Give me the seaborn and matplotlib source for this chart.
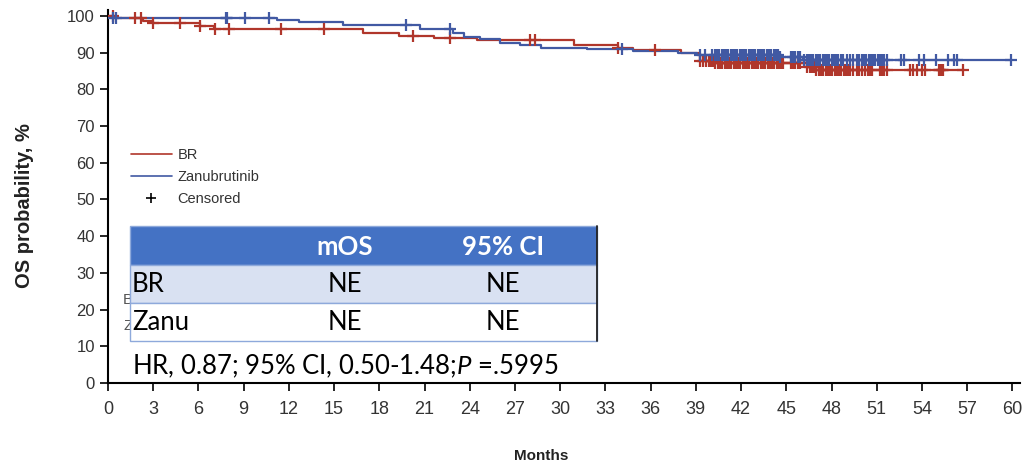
import numpy as np
import pandas as pd
import matplotlib
matplotlib.use("Agg")
import matplotlib.pyplot as plt
from matplotlib.patches import Rectangle
from matplotlib.lines import Line2D
import seaborn as sns

# ---------------- data ----------------
br_time = [0, 0.5, 2.3, 3.0, 6.1, 7.0, 16.9, 19.3, 21.6, 24.5, 30.9, 33.8, 34.8,
           38.0, 39.3, 40.2, 46.4, 47.0, 56.7]
br_surv = [100, 99.3, 98.6, 98.0, 97.3, 96.3, 95.2, 94.6, 94.0, 93.3, 92.2, 91.2, 90.7,
           89.9, 87.7, 87.1, 86.2, 85.3, 85.3]

zanu_time = [0, 0.3, 11.2, 12.7, 15.6, 20.7, 22.9, 23.6, 24.7, 26.0, 27.3, 28.7, 31.8,
             34.8, 37.8, 39.1, 44.6, 46.1, 59.9]
zanu_surv = [100, 99.5, 98.9, 98.2, 97.4, 96.3, 95.2, 94.3, 93.6, 92.6, 92.1, 91.3, 90.9,
             90.5, 89.9, 89.4, 88.7, 88.0, 88.0]

br_censored = [0.3, 1.8, 2.2, 3.0, 4.8, 6.1, 7.1, 8.0, 11.5, 14.3, 20.2, 22.7, 28.0, 28.3,
               33.8, 36.3, 39.3, 39.5, 39.7, 39.9, 40.0, 40.15, 40.3, 40.45, 40.6, 40.75,
               40.9, 41.05, 41.2, 41.35, 41.5, 41.65, 41.8, 41.95, 42.1, 42.25, 42.4, 42.55,
               42.7, 42.85, 43.0, 43.15, 43.3, 43.45, 43.6, 43.75, 43.9, 44.05, 44.2, 44.35,
               44.5, 44.65, 44.8, 45.3, 45.45, 45.6, 45.75, 45.9,
               46.4, 46.55, 46.7, 46.85, 47.0, 47.15, 47.3, 47.45, 47.6, 47.75, 47.9, 48.05,
               48.2, 48.35, 48.5, 48.65, 48.8, 48.95, 49.1, 49.25, 49.4, 49.7, 49.85, 50.0,
               50.25, 50.4, 50.55, 50.7, 51.2, 51.35, 51.5, 51.65,
               53.2, 53.4, 53.7, 54.0, 54.2, 55.1, 55.2, 55.3, 55.4, 56.7]
zanu_censored = [0.3, 0.5, 7.8, 7.9, 9.1, 10.7, 19.8, 22.7, 34.1, 39.3, 39.6,
                 40.1, 40.25, 40.4, 40.55, 40.7, 40.85, 41.0, 41.15, 41.3, 41.45, 41.6,
                 41.75, 41.9, 42.05, 42.2, 42.35, 42.5, 42.65, 42.8, 42.95, 43.1, 43.25,
                 43.4, 43.55, 43.7, 43.85, 44.0, 44.15, 44.3, 44.45, 44.6,
                 45.3, 45.45, 45.6, 45.75, 45.9, 46.2, 46.35, 46.5, 46.65, 46.8, 46.95,
                 47.1, 47.25, 47.4, 47.55, 47.7, 47.85, 48.0, 48.15, 48.3, 48.45, 48.6,
                 48.75, 49.0, 49.2, 49.4, 49.7, 49.85, 50.0, 50.15, 50.3, 50.45, 50.6,
                 50.75, 50.9, 51.05, 51.2, 51.35, 51.5, 51.65, 52.6, 52.8, 53.8, 54.1,
                 54.9, 55.7, 56.1, 56.3, 59.9]

arms = ["BR", "Zanubrutinib"]
arm_colors = {"BR": "#B0362B", "Zanubrutinib": "#4159A3"}

x_ticks = list(range(0, 61, 3))
y_ticks = list(range(0, 101, 10))

table_cols = ["", "mOS", "95% CI"]
table_rows = [["BR", "NE", "NE"], ["Zanu", "NE", "NE"]]
hr_text = "HR, 0.87; 95% CI, 0.50-1.48;"
p_text = "=.5995"

# ---------------- frames ----------------
curve_df = pd.concat([
    pd.DataFrame({"Months": br_time, "Surv": br_surv, "Arm": "BR"}),
    pd.DataFrame({"Months": zanu_time, "Surv": zanu_surv, "Arm": "Zanubrutinib"}),
], ignore_index=True)


def surv_at(times, survs, t):
    times = np.asarray(times)
    idx = np.searchsorted(times, t, side="right") - 1
    return np.asarray(survs)[idx]


cens_df = pd.concat([
    pd.DataFrame({"Months": br_censored,
                  "Surv": surv_at(br_time, br_surv, br_censored), "Arm": "BR"}),
    pd.DataFrame({"Months": zanu_censored,
                  "Surv": surv_at(zanu_time, zanu_surv, zanu_censored), "Arm": "Zanubrutinib"}),
], ignore_index=True)

# ---------------- figure ----------------
sns.set_theme(style="ticks")
plt.rcParams["font.family"] = ["Liberation Sans Narrow", "Liberation Sans", "DejaVu Sans"]
plt.rcParams["mathtext.fontset"] = "custom"
plt.rcParams["mathtext.it"] = "Lato:italic"
plt.rcParams["mathtext.rm"] = "Lato"

W, H = 1027, 467
fig = plt.figure(figsize=(W / 100, H / 100), dpi=100)
ax = fig.add_axes([108 / W, 84 / H, (1020 - 108) / W, (457 - 84) / H])

sns.lineplot(data=curve_df, x="Months", y="Surv", hue="Arm", palette=arm_colors,
             drawstyle="steps-post", estimator=None, linewidth=1.6, ax=ax, legend=False)
for arm in arms:
    sub = cens_df[cens_df["Arm"] == arm]
    sns.scatterplot(data=sub, x="Months", y="Surv", color=arm_colors[arm], marker="+",
                    s=80, linewidth=1.6, ax=ax, legend=False, zorder=3)

ax.set_xlim(0, 60.5)
ax.set_ylim(0, 101.6)
ax.set_xticks(x_ticks)
ax.set_yticks(y_ticks)
ax.tick_params(axis="both", direction="out", length=6, width=1.2, colors="black",
               labelcolor="#333333", labelsize=12)
ax.tick_params(axis="x", pad=7, labelsize=13)
for s in ["top", "right"]:
    ax.spines[s].set_visible(False)
for s in ["left", "bottom"]:
    ax.spines[s].set_linewidth(1.5)
    ax.spines[s].set_color("black")
ax.set_xlabel("")
ax.set_ylabel("")

fig.text(25 / W, 1 - 206 / H, "OS probability, %", rotation=90, ha="center", va="center",
         fontsize=14.5, fontweight="bold", color="#222222",
         family=["Liberation Sans", "DejaVu Sans"])
fig.text(541 / W, 1 - 456 / H, "Months", ha="center", va="center",
         fontsize=11, fontweight="bold", color="#222222")

# legend
handles = [Line2D([], [], color=arm_colors["BR"], lw=1.2),
           Line2D([], [], color=arm_colors["Zanubrutinib"], lw=1.2),
           Line2D([], [], color="black", lw=0, marker="+", markersize=7, mew=1.2)]
leg = ax.legend(handles, ["BR", "Zanubrutinib", "Censored"], loc="upper left",
                bbox_to_anchor=((125 - 108) / 912, 1 - (142 - 10) / 373),
                frameon=False, fontsize=10.5, handlelength=2.8, labelspacing=0.55,
                handletextpad=0.4, borderaxespad=0)
for t in leg.get_texts():
    t.set_color("#333333")
    t.set_family(["Liberation Sans", "DejaVu Sans"])

# partially hidden labels behind the table
fig.text(123 / W, 1 - 300 / H, "B", ha="left", va="center", fontsize=11, color="#555555",
         zorder=4)
fig.text(123 / W, 1 - 326 / H, "Z", ha="left", va="center", fontsize=11, color="#555555",
         zorder=4)

# table
tf = fig.transFigure
x0, x1 = 130, 597
rows_y = [226, 265, 303, 341]
fills = ["#4472C4", "#D9E1F2", "#FFFFFF"]
for i in range(3):
    ytop, ybot = rows_y[i], rows_y[i + 1]
    fig.patches.append(Rectangle((x0 / W, 1 - ybot / H), (x1 - x0) / W, (ybot - ytop) / H,
                                 transform=tf, facecolor=fills[i], edgecolor="#8EA9DB",
                                 linewidth=1.0, zorder=5))
fig.lines.append(Line2D([x1 / W, x1 / W], [1 - 341 / H, 1 - 226 / H], transform=tf,
                        color="#222222", lw=1.3, zorder=6))
col_x = [132, 345, 503]
tfont = ["Lato", "DejaVu Sans"]
fs = 18.5
for j, c in enumerate(table_cols):
    if c:
        fig.text(col_x[j] / W, 1 - 247 / H, c, ha="center", va="center", fontsize=fs,
                 fontweight="bold", color="white", family=tfont, zorder=6)
for i, row in enumerate(table_rows):
    yc = [285, 323][i]
    for j, val in enumerate(row):
        fig.text(col_x[j] / W, 1 - yc / H, val, ha="left" if j == 0 else "center",
                 va="center", fontsize=fs, color="black", family=tfont, zorder=6)
fig.text(132 / W, 1 - 366 / H, hr_text + r"$\mathit{P}$ " + p_text, ha="left", va="center",
         fontsize=fs, color="black", family=tfont, zorder=6)

fig.savefig("out.png", dpi=100)
